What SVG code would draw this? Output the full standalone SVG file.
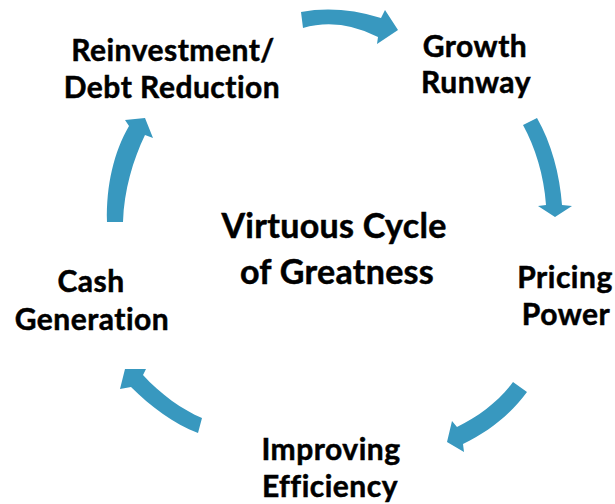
<svg xmlns="http://www.w3.org/2000/svg" width="615" height="504" viewBox="0 0 615 504">
<style>
.lbl{font-family:Lato,"Liberation Sans",sans-serif;font-weight:700;font-size:30px;letter-spacing:0.5px;fill:#000;stroke:#000;stroke-width:0.5px;text-anchor:middle;font-variant-ligatures:none;font-feature-settings:"liga" 0}
.ttl{font-family:Lato,"Liberation Sans",sans-serif;font-weight:700;font-size:34px;letter-spacing:0.3px;fill:#000;stroke:#000;stroke-width:0.5px;text-anchor:middle;font-variant-ligatures:none;font-feature-settings:"liga" 0}
.arr{fill:#3898bf;stroke:none}
</style>
<rect width="615" height="504" fill="#fff"/>
<g id="connectors">
<path class="arr" d="M 301,12 Q 339,5 381,18 L 385,10 L 398,30 L 377,44 L 378,37 Q 339.5,17.5 303,28 Z"/>
<path class="arr" d="M 537,118 C 551,142 560,175 562,205 L 572,206 L 555,217 L 538,206 L 546,205 C 544,175 535,147 523,125 Z"/>
<path class="arr" d="M 527,392 C 510,415 488,432 463,444 L 464,452 L 447,442 L 452,421 L 457,427 C 479,416 499,401 513,382 Z"/>
<path class="arr" d="M 202,418 C 183,410 160,394 143,375 L 146,369 L 125,369 L 120,389 L 131,387 C 150,406 174,424 198,433 Z"/>
<path class="arr" d="M 107,222 C 106,185 114,152 129,126 L 125,120 L 145,118 L 153,138 L 145,135 C 133,160 124,190 123,222 Z"/>
</g>
<g id="center">
<text class="ttl" x="334" y="238">Virtuous Cycle</text>
<text class="ttl" x="337" y="284">of Greatness</text>
</g>
<g id="growth-runway">
<text class="lbl" x="475" y="57">Growth</text>
<text class="lbl" x="476" y="93">Runway</text>
</g>
<g id="pricing-power">
<text class="lbl" x="565" y="288">Pricing</text>
<text class="lbl" x="566" y="325">Power</text>
</g>
<g id="improving-efficiency">
<text class="lbl" x="331" y="460">Improving</text>
<text class="lbl" x="330" y="497">Efficiency</text>
</g>
<g id="cash-generation">
<text class="lbl" x="91" y="292">Cash</text>
<text class="lbl" x="92" y="330">Generation</text>
</g>
<g id="reinvestment">
<text class="lbl" x="173" y="61">Reinvestment/</text>
<text class="lbl" x="172" y="98">Debt Reduction</text>
</g>
</svg>
